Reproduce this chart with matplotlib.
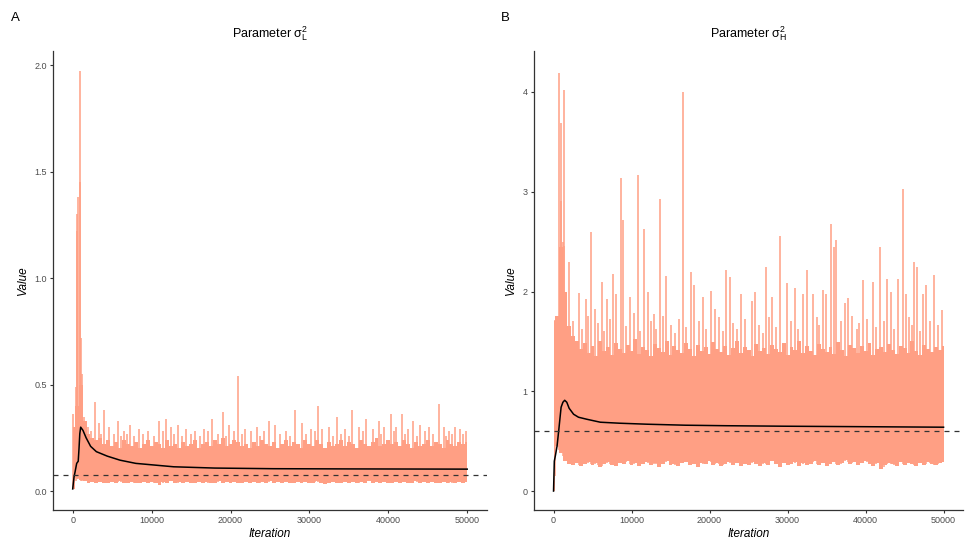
import matplotlib
matplotlib.use('Agg')
import matplotlib.pyplot as plt
import numpy as np

plt.rcParams['font.family'] = ['Liberation Sans', 'DejaVu Sans']
plt.rcParams['mathtext.fontset'] = 'custom'
plt.rcParams['mathtext.rm'] = 'Liberation Sans'
plt.rcParams['mathtext.it'] = 'Liberation Sans:italic'

TRACE_COLOR = '#ff9f84'
N_ITER = 50000

# sampler output, summarised per 500 iterations (bulk band of the trace)
env_iter = list(range(0, 50001, 500))

upper_L = [0.30, 0.40, 0.50, 0.33, 0.27, 0.25, 0.24, 0.25, 0.22, 0.24,
           0.21, 0.23, 0.20, 0.24, 0.22, 0.21, 0.23, 0.20, 0.22, 0.24,
           0.21, 0.23, 0.22, 0.20, 0.24, 0.21, 0.22, 0.20, 0.23, 0.21,
           0.22, 0.24, 0.20, 0.22, 0.23, 0.21, 0.24, 0.22, 0.25, 0.21,
           0.22, 0.24, 0.23, 0.21, 0.22, 0.20, 0.23, 0.21, 0.24, 0.22,
           0.21, 0.23, 0.20, 0.22, 0.24, 0.21, 0.23, 0.22, 0.20, 0.24,
           0.22, 0.21, 0.24, 0.22, 0.20, 0.23, 0.21, 0.22, 0.24, 0.21,
           0.23, 0.22, 0.20, 0.24, 0.22, 0.21, 0.23, 0.25, 0.21, 0.22,
           0.24, 0.22, 0.23, 0.21, 0.24, 0.22, 0.20, 0.23, 0.21, 0.22,
           0.24, 0.21, 0.23, 0.22, 0.20, 0.24, 0.22, 0.21, 0.23, 0.22, 0.23]
lower_L = [0.01, 0.06, 0.05, 0.045, 0.04, 0.042, 0.038, 0.044, 0.04, 0.036,
           0.042, 0.04, 0.045, 0.038, 0.04, 0.043, 0.037, 0.04, 0.044, 0.039,
           0.041, 0.036, 0.03, 0.042, 0.04, 0.045, 0.038, 0.041, 0.04, 0.043,
           0.037, 0.04, 0.044, 0.039, 0.042, 0.036, 0.04, 0.045, 0.038, 0.041,
           0.04, 0.043, 0.037, 0.04, 0.044, 0.039, 0.041, 0.036, 0.042, 0.04,
           0.045, 0.038, 0.041, 0.04, 0.043, 0.037, 0.04, 0.044, 0.039, 0.042,
           0.036, 0.04, 0.045, 0.038, 0.032, 0.04, 0.043, 0.037, 0.04, 0.044,
           0.039, 0.041, 0.036, 0.042, 0.04, 0.045, 0.038, 0.041, 0.04, 0.043,
           0.037, 0.04, 0.044, 0.039, 0.042, 0.036, 0.04, 0.045, 0.038, 0.041,
           0.04, 0.043, 0.037, 0.04, 0.044, 0.039, 0.041, 0.036, 0.042, 0.04, 0.044]

upper_H = [1.70, 1.75, 2.45, 2.00, 1.65, 1.55, 1.50, 1.42, 1.48, 1.38,
           1.45, 1.35, 1.50, 1.40, 1.44, 1.36, 1.48, 1.42, 1.38, 1.46,
           1.40, 1.52, 1.37, 1.44, 1.41, 1.35, 1.47, 1.43, 1.39, 1.50,
           1.36, 1.45, 1.41, 1.38, 1.48, 1.42, 1.35, 1.46, 1.40, 1.44,
           1.37, 1.49, 1.42, 1.39, 1.45, 1.36, 1.43, 1.50, 1.38, 1.44,
           1.41, 1.35, 1.47, 1.40, 1.43, 1.37, 1.46, 1.42, 1.39, 1.48,
           1.36, 1.44, 1.41, 1.50, 1.38, 1.45, 1.40, 1.36, 1.47, 1.42,
           1.39, 1.44, 1.37, 1.49, 1.41, 1.35, 1.46, 1.43, 1.38, 1.45,
           1.40, 1.48, 1.36, 1.42, 1.44, 1.39, 1.47, 1.41, 1.37, 1.45,
           1.43, 1.38, 1.50, 1.40, 1.36, 1.46, 1.42, 1.39, 1.44, 1.41, 1.45]
lower_H = [0.00, 0.45, 0.38, 0.30, 0.27, 0.26, 0.28, 0.25, 0.27, 0.29,
           0.26, 0.28, 0.24, 0.27, 0.29, 0.26, 0.25, 0.28, 0.27, 0.30,
           0.26, 0.28, 0.25, 0.27, 0.29, 0.26, 0.28, 0.24, 0.27, 0.30,
           0.26, 0.27, 0.25, 0.28, 0.29, 0.26, 0.27, 0.24, 0.28, 0.27,
           0.30, 0.26, 0.28, 0.25, 0.27, 0.29, 0.26, 0.28, 0.25, 0.27,
           0.26, 0.29, 0.27, 0.25, 0.28, 0.26, 0.30, 0.27, 0.24, 0.28,
           0.26, 0.27, 0.29, 0.25, 0.28, 0.26, 0.27, 0.30, 0.26, 0.28,
           0.25, 0.27, 0.29, 0.26, 0.28, 0.31, 0.27, 0.29, 0.26, 0.28,
           0.30, 0.27, 0.25, 0.28, 0.22, 0.26, 0.28, 0.27, 0.25, 0.29,
           0.26, 0.28, 0.27, 0.25, 0.28, 0.26, 0.29, 0.27, 0.26, 0.28, 0.29]

# individual excursions above the band
spike_iter_L = [40, 380, 505, 590, 670, 880, 960, 1100, 1220, 1430,
                2780, 3300, 4000, 4600, 5720, 6500, 7240, 8380, 9560, 10950,
                11870, 12500, 13300, 14400, 15500, 16590, 17680, 18990, 19870, 20930,
                21850, 22600, 23330, 24880, 25640, 27000, 28200, 29050, 30200, 31150,
                31610, 32500, 33560, 34500, 35450, 36300, 37130, 38000, 38770, 39500,
                40290, 41000, 41770, 42500, 43110, 44040, 45200, 46390, 47000, 47740,
                48500, 49130, 49800,
                1900, 2300, 3600, 5200, 6100, 6900, 7800, 8900, 10300, 11400,
                12900, 13800, 15000, 16100, 17200, 18400, 19400, 20400, 21400, 23800,
                24300, 26300, 27600, 29600, 30700, 33000, 34000, 35000, 36800, 39100,
                40700, 42100, 43600, 44600, 45700, 47300, 48100, 49500]
spike_val_L = [0.36, 0.49, 1.22, 1.30, 1.38, 1.97, 1.45, 0.72, 0.55, 0.35,
               0.42, 0.32, 0.38, 0.30, 0.33, 0.28, 0.31, 0.29, 0.28, 0.33,
               0.34, 0.30, 0.31, 0.29, 0.28, 0.29, 0.34, 0.37, 0.31, 0.54,
               0.29, 0.28, 0.30, 0.33, 0.31, 0.28, 0.38, 0.32, 0.29, 0.40,
               0.29, 0.30, 0.35, 0.29, 0.38, 0.30, 0.34, 0.29, 0.33, 0.30,
               0.36, 0.30, 0.36, 0.29, 0.33, 0.31, 0.30, 0.41, 0.30, 0.28,
               0.30, 0.29, 0.28,
               0.30, 0.28, 0.27, 0.27, 0.26, 0.27, 0.26, 0.27, 0.26, 0.28,
               0.27, 0.26, 0.27, 0.26, 0.28, 0.27, 0.26, 0.28, 0.27, 0.26,
               0.28, 0.27, 0.26, 0.27, 0.28, 0.26, 0.27, 0.26, 0.28, 0.27,
               0.28, 0.27, 0.26, 0.28, 0.27, 0.26, 0.27, 0.27]

spike_iter_H = [170, 590, 760, 920, 1010, 1150, 1300, 1390, 2020, 3280,
                4120, 4800, 5300, 6190, 6900, 7580, 7960, 8680, 8880, 9850,
                10820, 11580, 12130, 12840, 13600, 14400, 16550, 17560, 17980, 19200,
                20170, 20710, 22150, 22570, 24000, 25430, 25850, 27240, 28000, 29010,
                29900, 30900, 31920, 32550, 33300, 34480, 34990, 35620, 35910, 36250,
                37350, 37770, 39660, 40890, 41850, 42780, 43240, 44120, 44840, 45130,
                46230, 46610, 47410, 47710, 48760, 49850,
                2500, 3700, 4400, 5700, 6500, 7300, 9300, 10300, 11100, 12500,
                13100, 14000, 15000, 15600, 16100, 17000, 18600, 19600, 21200, 21700,
                23000, 23500, 24600, 26400, 26900, 27600, 28500, 30400, 31400, 33800,
                34000, 36800, 38300, 38900, 39200, 40200, 41300, 42300, 43700, 45600,
                46000, 47000, 48200, 49300]
spike_val_H = [1.71, 1.74, 4.19, 3.69, 2.91, 2.50, 2.46, 4.02, 2.30, 1.99,
               1.92, 2.60, 1.82, 2.10, 1.92, 2.18, 1.97, 3.14, 2.72, 1.94,
               3.17, 2.63, 2.00, 1.77, 2.93, 2.16, 4.00, 2.20, 2.07, 1.94,
               2.01, 1.82, 2.22, 2.15, 1.97, 1.90, 2.00, 2.25, 1.94, 2.56,
               2.09, 2.04, 1.97, 2.22, 1.98, 2.02, 1.97, 2.68, 2.45, 2.52,
               1.88, 1.93, 2.12, 2.10, 2.45, 2.13, 2.00, 2.13, 3.03, 1.97,
               2.30, 2.25, 1.97, 2.07, 2.17, 1.81,
               1.70, 1.62, 1.75, 1.68, 1.60, 1.72, 1.65, 1.78, 1.60, 1.70,
               1.62, 1.75, 1.66, 1.58, 1.72, 1.64, 1.70, 1.62, 1.74, 1.60,
               1.68, 1.62, 1.72, 1.66, 1.58, 1.74, 1.64, 1.70, 1.62, 1.74,
               1.66, 1.70, 1.75, 1.62, 1.68, 1.72, 1.64, 1.70, 1.62, 1.74,
               1.66, 1.60, 1.70, 1.66]

# running (cumulative) mean of each chain
mean_iter_L = [0, 170, 300, 505, 700, 800, 900, 1010, 1300, 1700,
               2270, 3000, 4380, 6000, 8000, 12800, 18000, 25400, 35000, 50000]
mean_L = [0.01, 0.067, 0.09, 0.13, 0.14, 0.20, 0.27, 0.30, 0.285, 0.25,
          0.21, 0.185, 0.164, 0.145, 0.13, 0.114, 0.108, 0.105, 0.104, 0.103]

mean_iter_H = [0, 100, 250, 450, 670, 970, 1200, 1430, 1700, 2000, 2570,
               3200, 4250, 6000, 8460, 12000, 16880, 22000, 29500, 40000, 50000]
mean_H = [0.0, 0.30, 0.36, 0.45, 0.61, 0.84, 0.89, 0.91, 0.89, 0.83, 0.77,
          0.74, 0.72, 0.69, 0.68, 0.67, 0.66, 0.655, 0.65, 0.645, 0.64]

true_L = 0.077
true_H = 0.60


def draw_trace(ax, upper, lower, spike_iter, spike_val, mean_iter, mean_val, true_val):
    ax.fill_between(env_iter, lower, upper, step='mid', color=TRACE_COLOR, lw=0)
    base = np.interp(spike_iter, env_iter, lower)
    ax.vlines(spike_iter, base, spike_val, color=TRACE_COLOR, lw=1.1)
    ax.plot(mean_iter, mean_val, color='black', lw=1.1)
    ax.axhline(true_val, color='#333333', lw=0.9, ls=(0, (4, 4)))

    ax.set_xlim(-0.05 * N_ITER, 1.05 * N_ITER)
    ax.set_xticks([0, 10000, 20000, 30000, 40000, 50000])
    ax.set_xlabel('Iteration', style='italic', fontsize=8.5, labelpad=2)
    ax.set_ylabel('Value', style='italic', fontsize=8.5, labelpad=4)
    for side in ('top', 'right'):
        ax.spines[side].set_visible(False)
    for side in ('left', 'bottom'):
        ax.spines[side].set_color('#333333')
        ax.spines[side].set_linewidth(0.9)
    ax.tick_params(labelsize=6.5, labelcolor='#4d4d4d', color='#333333',
                   length=2.5, width=0.8, pad=2)


fig = plt.figure(figsize=(9.65, 5.47), dpi=100)
axL = fig.add_axes([0.0549, 0.0676, 0.4497, 0.8391])
axH = fig.add_axes([0.5534, 0.0676, 0.4446, 0.8391])

draw_trace(axL, upper_L, lower_L, spike_iter_L, spike_val_L, mean_iter_L, mean_L, true_L)
axL.set_ylim(-0.089, 2.066)
axL.set_yticks([0.0, 0.5, 1.0, 1.5, 2.0])
axL.set_yticklabels(['0.0', '0.5', '1.0', '1.5', '2.0'])
axL.set_title(r'Parameter $\mathrm{\sigma}^2_\mathrm{L}$', fontsize=9, pad=10)

draw_trace(axH, upper_H, lower_H, spike_iter_H, spike_val_H, mean_iter_H, mean_H, true_H)
axH.set_ylim(-0.19, 4.41)
axH.set_yticks([0, 1, 2, 3, 4])
axH.set_title(r'Parameter $\mathrm{\sigma}^2_\mathrm{H}$', fontsize=9, pad=10)

fig.text(15 / 965, 1 - 18 / 547, 'A', fontsize=9.5, ha='center', va='center')
fig.text(505 / 965, 1 - 18 / 547, 'B', fontsize=9.5, ha='center', va='center')

fig.savefig('out.png', dpi=100)
